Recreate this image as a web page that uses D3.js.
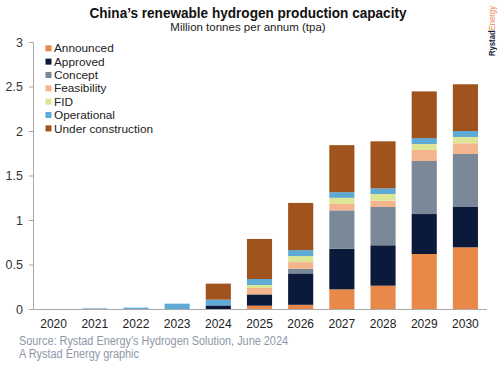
<!DOCTYPE html>
<html><head><meta charset="utf-8">
<script src="https://cdn.jsdelivr.net/npm/d3@7"></script>
<style>body{margin:0;background:#fff}svg{display:block}text{font-family:"Liberation Sans",Arial,sans-serif}</style>
</head><body><svg id="c" width="500" height="368"></svg>
<script>
const years = ["2020","2021","2022","2023","2024","2025","2026","2027","2028","2029","2030"];
const seriesNames = ["Announced","Approved","Concept","Feasibility","FID","Operational","Under construction"];
const colors = ["#E8894A","#0B1A3A","#7B8898","#F4B48E","#DDE696","#5FA9D5","#A0531C"];
const announced   = [0,0,0,0,0,0.037,0.047,0.221,0.262,0.618,0.693];
const approved    = [0,0,0,0,0.04,0.127,0.353,0.456,0.454,0.449,0.453];
const concept     = [0,0,0,0,0,0,0.052,0.431,0.43,0.596,0.596];
const feasibility = [0,0,0,0,0,0.072,0.075,0.074,0.071,0.124,0.12];
const fid         = [0,0,0,0,0,0.034,0.068,0.067,0.075,0.067,0.071];
const operational = [0,0.007,0.015,0.06,0.065,0.067,0.067,0.064,0.064,0.067,0.067];
const underConstruction = [0,0,0,0,0.18,0.45,0.53,0.528,0.528,0.524,0.525];
const yTicks = [0,0.5,1,1.5,2,2.5,3];
const yTickLabels = ["0","0.5","1","1.5","2","2.5","3"];

const seriesVals = [announced,approved,concept,feasibility,fid,operational,underConstruction];
const table = years.map((y,i)=>{const o={year:y};seriesNames.forEach((s,k)=>o[s]=seriesVals[k][i]);return o;});
const stack = d3.stack().keys(seriesNames)(table);

const svg = d3.select("#c");
const x = d3.scaleBand().domain(years).range([33,486]).paddingInner(0.39).paddingOuter(0.195);
const y = d3.scaleLinear().domain([0,3]).range([309,42]);

// y axis
const ya = svg.append("g").attr("transform","translate(33,0)")
  .call(d3.axisLeft(y).tickValues(yTicks).tickFormat((d,i)=>yTickLabels[i]).tickSize(4).tickPadding(6));
ya.select(".domain").attr("stroke","#a9a9a9");
ya.selectAll(".tick line").attr("stroke","#a9a9a9");
ya.selectAll("text").attr("font-size",12.5).attr("fill","#333").style("font-family","'Liberation Sans',Arial,sans-serif");

// bars
svg.append("g").selectAll("g").data(stack).join("g").attr("fill",(d,i)=>colors[i])
  .selectAll("rect").data(d=>d).join("rect")
  .attr("x",d=>x(d.data.year)).attr("width",x.bandwidth())
  .attr("y",d=>y(d[1])).attr("height",d=>Math.max(0,y(d[0])-y(d[1])));

// x axis
const xa = svg.append("g").attr("transform","translate(0,309)")
  .call(d3.axisBottom(x).tickSize(0).tickPadding(10));
xa.select(".domain").attr("stroke","#a9a9a9").attr("d","M33,0.5H487");
xa.selectAll("text").attr("font-size",12).attr("fill","#222").style("font-family","'Liberation Sans',Arial,sans-serif");

// title
svg.append("text").attr("x",248).attr("y",18).attr("text-anchor","middle")
  .attr("font-size",15.5).attr("font-weight","bold").attr("fill","#111")
  .attr("textLength",317).attr("lengthAdjust","spacingAndGlyphs")
  .text("China’s renewable hydrogen production capacity");
svg.append("text").attr("x",248).attr("y",30.5).attr("text-anchor","middle")
  .attr("font-size",11.5).attr("fill","#222").text("Million tonnes per annum (tpa)");

// legend
const lg = svg.append("g");
seriesNames.forEach((s,i)=>{
  const cy = 48.3 + i*13.35;
  lg.append("rect").attr("x",45.5).attr("y",cy-3).attr("width",6).attr("height",6).attr("fill",colors[i]);
  lg.append("text").attr("x",54).attr("y",cy).attr("dy","0.35em").attr("font-size",11.8).attr("fill","#222").text(s);
});

// source
svg.append("text").attr("x",19).attr("y",345).attr("font-size",12).attr("fill","#8d97a8")
  .attr("textLength",269).attr("lengthAdjust","spacingAndGlyphs")
  .text("Source: Rystad Energy’s Hydrogen Solution, June 2024");
svg.append("text").attr("x",19).attr("y",358).attr("font-size",12).attr("fill","#8d97a8")
  .attr("textLength",120).attr("lengthAdjust","spacingAndGlyphs")
  .text("A Rystad Energy graphic");

// logo
const logo = svg.append("text").attr("transform","translate(495,56) rotate(-90)")
  .attr("font-size",8.5).attr("font-weight","bold")
  .attr("textLength",50).attr("lengthAdjust","spacingAndGlyphs");
logo.append("tspan").attr("fill","#1a2238").text("Rystad");
logo.append("tspan").attr("fill","#E8894A").attr("font-weight","normal").text("Energy");
</script></body></html>
